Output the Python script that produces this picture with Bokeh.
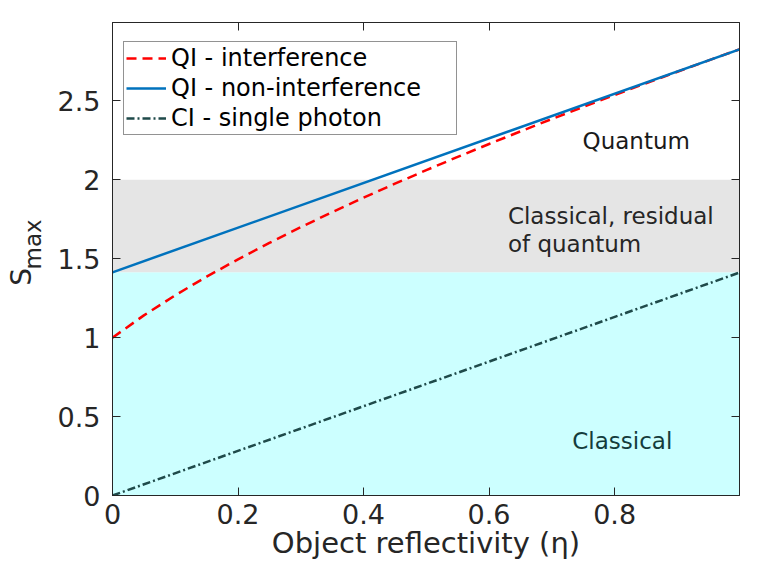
from bokeh.plotting import figure
from bokeh.models import Range1d, LinearAxis, FixedTicker, Legend, LegendItem
from bokeh.embed import file_html
from bokeh.resources import INLINE
from bokeh.core.properties import value

# ---- data ----
eta = [0.0, 0.05, 0.1, 0.15, 0.2, 0.25, 0.3, 0.35, 0.4, 0.45, 0.5,
       0.55, 0.6, 0.65, 0.7, 0.75, 0.8, 0.85, 0.9, 0.95, 1.0]
qi_interference = [1.0, 1.1413, 1.2689, 1.3865, 1.4967, 1.6008, 1.7000, 1.7951,
                   1.8868, 1.9755, 2.0616, 2.1453, 2.2271, 2.3071, 2.3854, 2.4622,
                   2.5377, 2.6120, 2.6851, 2.7573, 2.8284]
eta_ends = [0.0, 1.0]
qi_noninterference = [1.4142, 2.8284]
ci_single_photon = [0.0, 1.4142]

band_bottom = [0.0, 1.4142]
band_top = [1.4142, 2.0]
band_colors = ["#ccffff", "#e5e5e5"]

x_ticks = [0, 0.2, 0.4, 0.6, 0.8]
x_tick_labels = ["0", "0.2", "0.4", "0.6", "0.8"]
y_ticks = [0, 0.5, 1, 1.5, 2, 2.5]
y_tick_labels = ["0", "0.5", "1", "1.5", "2", "2.5"]

region_x = [0.749, 0.630, 0.630, 0.7325]
region_y = [2.248, 1.773, 1.594, 0.344]
region_text = ["Quantum", "Classical, residual", "of quantum", "Classical"]
region_color = ["#1a1a1a", "#262626", "#262626", "#143c3c"]

FONT = "DejaVu Sans"
AX = "#262626"
NB = "\u00a0"

p = figure(width=761, height=567, output_backend="svg", toolbar_location=None,
           x_range=Range1d(0, 0.999), y_range=Range1d(0, 2.997),
           min_border_left=112, min_border_right=22, min_border_top=22,
           min_border_bottom=72, x_axis_type=None, y_axis_type=None)
p.xgrid.visible = False
p.ygrid.visible = False
p.outline_line_color = AX
p.background_fill_color = "white"
p.border_fill_color = "white"

# shaded regions
p.quad(left=[0, 0], right=[1, 1], bottom=band_bottom, top=band_top,
       fill_color=band_colors, line_color=None, level="underlay")

r_int = p.line(eta, qi_interference, line_color="#ff0000", line_width=2.5,
               line_dash="10 6")
r_non = p.line(eta_ends, qi_noninterference, line_color="#0072bd", line_width=2.5)
r_ci = p.line(eta_ends, ci_single_photon, line_color="#1f4a4a", line_width=2.5,
              line_dash="8 3 2 3")

p.text(x=region_x, y=region_y, text=region_text, text_color=region_color,
       text_font=value(FONT), text_font_size="23px", text_baseline="alphabetic",
       text_align="left")

def style_axis(ax, ticks, labels, show_labels=True):
    ax.ticker = FixedTicker(ticks=ticks)
    ax.major_label_overrides = {t: l for t, l in zip(ticks, labels)}
    ax.major_tick_in = 8
    ax.major_tick_out = 0
    ax.minor_tick_line_color = None
    ax.axis_line_color = AX
    ax.major_tick_line_color = AX
    ax.major_label_text_font = FONT
    ax.major_label_text_color = AX
    ax.axis_label_text_font = FONT
    ax.axis_label_text_color = AX
    ax.axis_label_text_font_style = "normal"
    if show_labels:
        ax.major_label_text_font_size = "27px"
    else:
        ax.major_label_text_font_size = "10px"
        ax.major_label_text_color = None
        ax.major_label_standoff = 0

# bottom axis with title
xb = LinearAxis()
style_axis(xb, x_ticks, x_tick_labels)
xb.major_label_standoff = 8
xb.axis_label = "Object reflectivity (η)"
xb.axis_label_text_font_size = "29px"
xb.axis_label_standoff = -1
p.add_layout(xb, "below")

# left axis: ticks + subscript part of the title
yl = LinearAxis()
style_axis(yl, y_ticks, y_tick_labels)
yl.major_label_standoff = 12
yl.axis_label = NB * 4 + "max"
yl.axis_label_text_font_size = "23px"
yl.axis_label_standoff = 9
p.add_layout(yl, "left")

# outer left axis carrying only the main symbol of the title
ys = LinearAxis(ticker=FixedTicker(ticks=[]))
ys.axis_line_color = None
ys.major_tick_line_color = None
ys.minor_tick_line_color = None
ys.major_label_text_color = None
ys.axis_label = "S" + NB * 4
ys.axis_label_text_font = FONT
ys.axis_label_text_font_size = "28px"
ys.axis_label_text_font_style = "normal"
ys.axis_label_text_color = AX
ys.axis_label_standoff = -21
p.add_layout(ys, "left")

# box: top and right axes with inward ticks, no labels
xt = LinearAxis()
style_axis(xt, x_ticks, x_tick_labels, show_labels=False)
p.add_layout(xt, "above")
yr = LinearAxis()
style_axis(yr, y_ticks, y_tick_labels, show_labels=False)
p.add_layout(yr, "right")

legend = Legend(items=[
    LegendItem(label="QI - interference", renderers=[r_int]),
    LegendItem(label="QI - non-interference", renderers=[r_non]),
    LegendItem(label="CI - single photon", renderers=[r_ci]),
], location=(11, 360))
legend.label_text_font = FONT
legend.label_text_font_size = "24px"
legend.label_text_color = "#000000"
legend.glyph_width = 40
legend.glyph_height = 24
legend.label_height = 24
legend.label_width = 283
legend.label_standoff = 5
legend.spacing = 2
legend.padding = 2
legend.margin = 0
legend.border_line_color = AX
legend.border_line_width = 1
legend.background_fill_color = "white"
legend.background_fill_alpha = 1
p.add_layout(legend)

open("out.html", "w").write(file_html(p, INLINE))
